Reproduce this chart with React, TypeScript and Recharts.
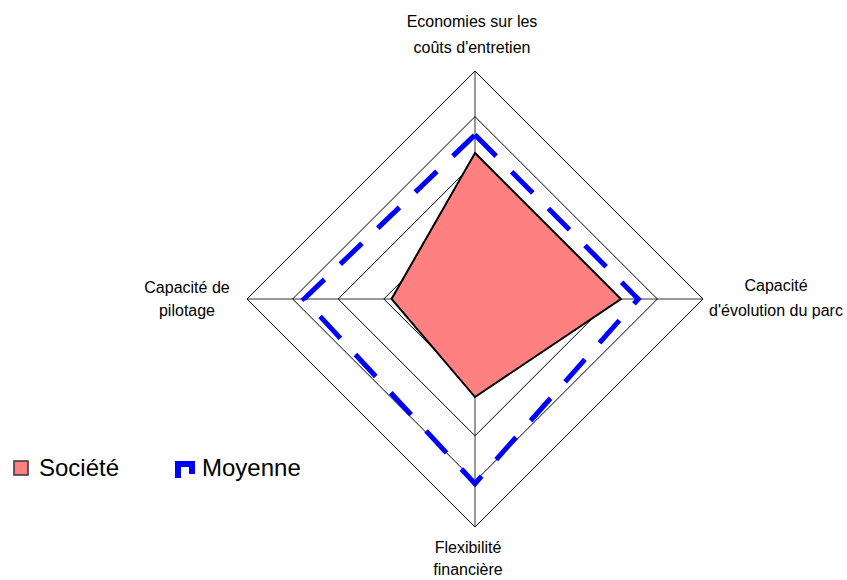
import { RadarChart, Radar, PolarGrid, PolarAngleAxis, PolarRadiusAxis, Legend } from 'recharts'

const axes = [
  'Economies sur les coûts d\'entretien',
  'Capacité d\'évolution du parc',
  'Flexibilité financière',
  'Capacité de pilotage',
]
const axisLines = [
  ['Economies sur les', 'coûts d\'entretien'],
  ['Capacité', 'd\'évolution du parc'],
  ['Flexibilité', 'financière'],
  ['Capacité de', 'pilotage'],
]
const societe = [3.2, 3.2, 2.15, 1.83]
const moyenne = [3.6, 3.58, 4.05, 3.75]
const radiusTicks = [0, 1, 2, 3, 4, 5]

const data = axes.map((axis, i) => ({ axis, societe: societe[i], moyenne: moyenne[i] }))

// label offset from the tick anchor, per axis
const labelOffset = [
  { dx: -3, dy: [-36, -10] },
  { dx: 65, dy: [-8, 17] },
  { dx: -7, dy: [18, 40] },
  { dx: -52, dy: [-6, 17] },
]

const font = '"Liberation Sans", Arial, sans-serif'

function AxisTick(props: any) {
  const { x, y, payload } = props
  const i = axes.indexOf(payload.value)
  const off = labelOffset[i]
  return (
    <g>
      {axisLines[i].map((line, k) => (
        <text
          key={k}
          x={x + off.dx}
          y={y + off.dy[k]}
          textAnchor="middle"
          fontFamily={font}
          fontSize={16}
          fill="#000"
        >
          {line}
        </text>
      ))}
    </g>
  )
}

function LegendBox() {
  return (
    <svg width={320} height={40} style={{ display: 'block' }}>
      <rect x={14} y={11} width={14} height={14} fill="#FF8080" stroke="#333" strokeWidth={1.5} />
      <text x={39} y={26} fontFamily={font} fontSize={24} fill="#000">Société</text>
      <path d="M178 28 V14 H192 V24" stroke="#0000FF" strokeWidth={6} fill="none" />
      <text x={202} y={26} fontFamily={font} fontSize={24} fill="#000">Moyenne</text>
    </svg>
  )
}

export default function App() {
  return (
    <div style={{ position: 'absolute', left: 0, top: 0, background: '#fff' }}>
      <RadarChart width={847} height={580} data={data} cx={475} cy={299} outerRadius={228} margin={{ top: 0, right: 0, bottom: 0, left: 0 }}>
        <PolarGrid gridType="polygon" radialLines={false} stroke="#000" strokeOpacity={1} />
        <PolarRadiusAxis domain={[0, 5]} ticks={radiusTicks as any} tickCount={6} axisLine={false} tick={false} />
        <PolarAngleAxis dataKey="axis" tick={AxisTick} tickLine={false} axisLine={false} />
        <Radar
          dataKey="societe"
          fill="#FF8080"
          fillOpacity={1}
          stroke="#000"
          strokeWidth={2}
          isAnimationActive={false}
        />
        <Radar
          dataKey="moyenne"
          fill="none"
          fillOpacity={0}
          stroke="#0000FF"
          strokeWidth={5}
          strokeDasharray="30 22"
          isAnimationActive={false}
        />
        {/* radial spokes drawn again over the filled area */}
        <PolarGrid gridType="polygon" polarRadius={[0]} stroke="#000" strokeOpacity={0.8} />
        <Legend content={LegendBox} wrapperStyle={{ left: 0, top: 450, width: 320 }} />
      </RadarChart>
    </div>
  )
}
